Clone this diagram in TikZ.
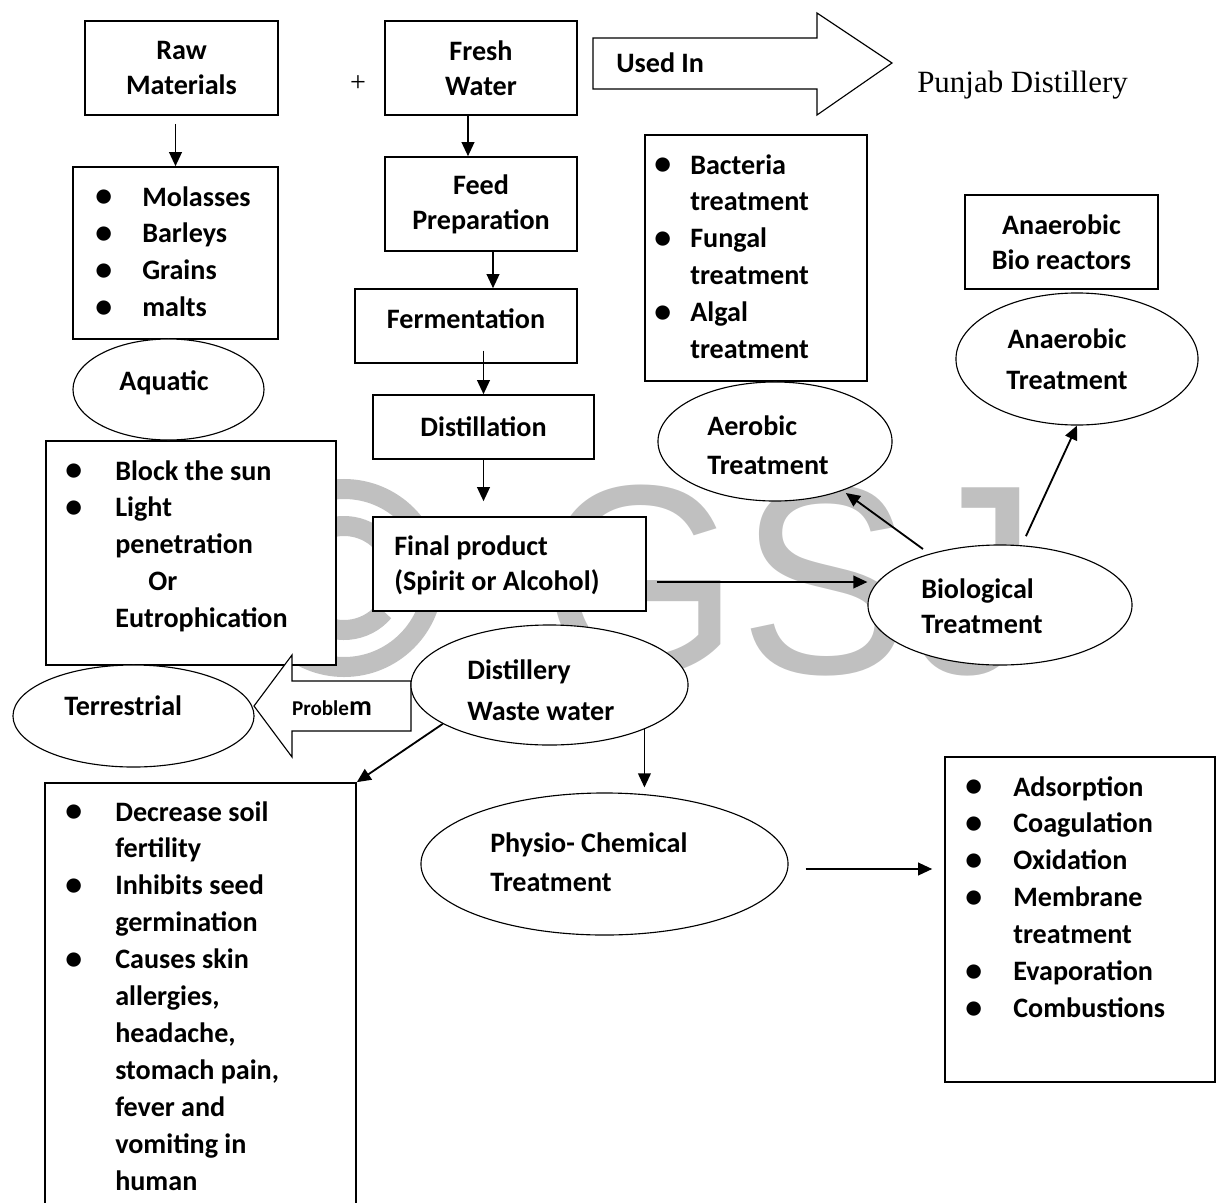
\documentclass[tikz,border=0pt]{standalone}
\usepackage{fontspec}
\usepackage{tikz}
\usetikzlibrary{arrows.meta,shapes.geometric}
\setmainfont{Carlito}
\newfontfamily\serifface{Liberation Serif}
\newfontfamily\markface{Liberation Sans}
\definecolor{markgray}{RGB}{192,192,192}
\def\arraystretch{1.05}
\newcommand{\dotmark}{\raisebox{-.5pt}{\fontsize{24}{24}\selectfont\textbullet}}

\tikzset{
  box/.style={draw,fill=white,line width=1.1pt,inner sep=0pt,align=center},
  oval/.style={draw,ellipse,fill=white,line width=.8pt,inner sep=0pt},
  word/.style={font=\bfseries\fontsize{20}{25}\selectfont,inner sep=0pt},
  flow/.style={-{Triangle[length=10pt,width=9pt]},line width=1.3pt},
  blockarrow/.style={draw,fill=white,line width=.8pt},
}

\begin{document}
\begin{tikzpicture}[x=.025cm,y=-.025cm]
  \useasboundingbox (0,0) rectangle (1224,1203);
  \clip (0,0) rectangle (1224,1203);

  % watermark
  \draw[markgray,line width=.5cm] (344,578) circle[radius=89];
  \draw[markgray,line width=.5cm] (344,578) ++(40:52) arc[start angle=40,end angle=320,radius=52];
  \node[inner sep=0pt,anchor=base west,text=markgray,font=\markface\fontsize{192}{192}\selectfont] (mark) at (540,673) {\scalebox{.95}[1]{GSJ}};

  % top row
  \node[box,word,minimum width=4.825cm,minimum height=2.35cm] (raw) at (181.5,68) {Raw\\Materials};
  \node[font=\serifface\fontsize{20}{24}\selectfont,inner sep=0pt] (plus) at (358,84) {+};
  \node[box,word,minimum width=4.8cm,minimum height=2.35cm] (fresh) at (481,68) {Fresh\\Water};
  \draw[blockarrow] (593,38) -- (817,38) -- (817,13) -- (892,63) -- (817,115) -- (817,89) -- (593,89) -- cycle;
  \node[word,anchor=mid west] (usedin) at (616,69) {Used In};
  \node[font=\serifface\fontsize{22}{26}\selectfont,inner sep=0pt,anchor=base west] (punjab) at (917,92) {Punjab Distillery};

  % raw materials side
  \node[box,minimum width=5.125cm,minimum height=4.3cm] (rawlist) at (175.5,253) {};
  \node[word,anchor=base west] (rawitems) at (95,206) {\begin{tabular}[t]{@{}p{1.175cm}@{}l@{}}
    \dotmark & Molasses\\ \dotmark & Barleys\\ \dotmark & Grains\\ \dotmark & malts
  \end{tabular}};
  \node[box,minimum width=7.25cm,minimum height=5.6cm] (block) at (191,553) {};
  \node[word,anchor=base west] (blockitems) at (65,480) {\begin{tabular}[t]{@{}p{1.25cm}@{}l@{}}
    \dotmark & Block the sun\\ \dotmark & Light\\ & penetration\\ & \hspace*{.825cm}Or\\ & Eutrophication
  \end{tabular}};
  \node[oval,minimum width=4.775cm,minimum height=2.525cm] (aquatic) at (168.5,389.5) {};
  \node[word,anchor=mid] (aquatictxt) at (164,387) {Aquatic};

  % process chain
  \node[box,word,minimum width=4.8cm,minimum height=2.35cm] (feed) at (481,204) {Feed\\Preparation};
  \node[box,minimum width=5.55cm,minimum height=1.85cm] (ferm) at (466,326) {};
  \node[word,anchor=mid] (fermtxt) at (466,325) {Fermentation};
  \node[box,word,minimum width=5.525cm,minimum height=1.6cm] (dist) at (483.5,427) {Distillation};
  \node[box,minimum width=6.825cm,minimum height=2.35cm] (final) at (509.5,564) {};
  \node[word,anchor=west,align=left] (finaltxt) at (394,565) {Final product\\(Spirit or Alcohol)};

  % biological side
  \node[box,minimum width=5.55cm,minimum height=6.15cm] (bact) at (756,258) {};
  \node[word,anchor=base west] (bactitems) at (654,174) {\begin{tabular}[t]{@{}p{.9cm}@{}l@{}}
    \dotmark & Bacteria\\ & treatment\\ \dotmark & Fungal\\ & treatment\\ \dotmark & Algal\\ & treatment
  \end{tabular}};
  \node[box,word,minimum width=4.825cm,minimum height=2.35cm] (anbox) at (1061.5,242) {Anaerobic\\Bio reactors};
  \node[oval,minimum width=6.05cm,minimum height=3.3cm] (anaer) at (1077,359) {};
  \node[word,align=center] (anaertxt) at (1067,359) {Anaerobic\\[.15cm]Treatment};
  \node[oval,minimum width=5.85cm,minimum height=2.975cm] (aerobic) at (775,441.5) {};
  \node[word,anchor=west,align=left] (aerobictxt) at (707,445) {Aerobic\\[.1cm]Treatment};
  \node[oval,minimum width=6.6cm,minimum height=3cm] (bio) at (1000,605) {};
  \node[word,anchor=west,align=left] (biotxt) at (921,606) {Biological\\Treatment};

  % waste water and problems
  \node[oval,minimum width=6.025cm,minimum height=2.55cm] (terr) at (133.5,716) {};
  \node[word,anchor=mid west] (terrtxt) at (64,712) {Terrestrial};
  \draw[blockarrow] (411,681) -- (292,681) -- (292,655) -- (254,706) -- (292,757) -- (292,731) -- (411,731) -- cycle;
  \node[word,anchor=mid] (problem) at (332,712) {{\fontsize{15}{15}\selectfont Proble}m};
  \node[oval,minimum width=6.925cm,minimum height=3cm] (waste) at (549.5,685) {};
  \node[word,anchor=west,align=left] (wastetxt) at (467,690) {Distillery\\[.15cm]Waste water};

  \node[box,minimum width=7.775cm,minimum height=11.175cm] (decr) at (200.5,1006.5) {};
  \node[word,anchor=base west] (decritems) at (65,821) {\begin{tabular}[t]{@{}p{1.25cm}@{}l@{}}
    \dotmark & Decrease soil\\ & fertility\\ \dotmark & Inhibits seed\\ & germination\\
    \dotmark & Causes skin\\ & allergies,\\ & headache,\\ & stomach pain,\\ & fever and\\ & vomiting in\\ & human
  \end{tabular}};
  \node[oval,minimum width=9.175cm,minimum height=3.55cm] (physio) at (604.5,864) {};
  \node[word,anchor=west,align=left] (physiotxt) at (490,862) {Physio- Chemical\\[.1cm]Treatment};
  \node[box,minimum width=6.75cm,minimum height=8.125cm] (ads) at (1080,919.5) {};
  \node[word,anchor=base west] (adsitems) at (965,796) {\begin{tabular}[t]{@{}p{1.2cm}@{}l@{}}
    \dotmark & Adsorption\\ \dotmark & Coagulation\\ \dotmark & Oxidation\\ \dotmark & Membrane\\ & treatment\\
    \dotmark & Evaporation\\ \dotmark & Combustions
  \end{tabular}};

  % connectors
  \draw[flow,shorten <=.2cm] (raw.south -| rawlist.north) -- (rawlist.north);
  \draw[flow] ([xshift=-.325cm]fresh.south) -- ([xshift=-.325cm]feed.north);
  \draw[flow] ([xshift=.3cm]feed.south) -- ([xshift=.3cm]feed.south |- ferm.north);
  \draw[flow] ([yshift=.33cm]ferm.south -| dist.north) -- (dist.north);
  \draw[flow,shorten >=.375cm] (dist.south) -- (dist.south |- final.north);
  \draw[flow,shorten <=.25cm] ([yshift=-.45cm]final.east) -- ([yshift=-.45cm]final.east -| bio.west);
  \draw[flow,shorten <=.2cm,shorten >=.1cm] (bio) -- (aerobic);
  \draw[flow,shorten <=.25cm] (bio.70) -- (anaer.south);
  \draw[flow] (waste.200) -- (decr.north east);
  \draw[flow,shorten >=.125cm] (waste.335.5) -- (waste.335.5 |- physio.north);
  \draw[flow,shorten <=.425cm,shorten >=.3cm] ([yshift=-.125cm]physio.east) -- ([yshift=-.125cm]physio.east -| ads.west);
\end{tikzpicture}
\end{document}
